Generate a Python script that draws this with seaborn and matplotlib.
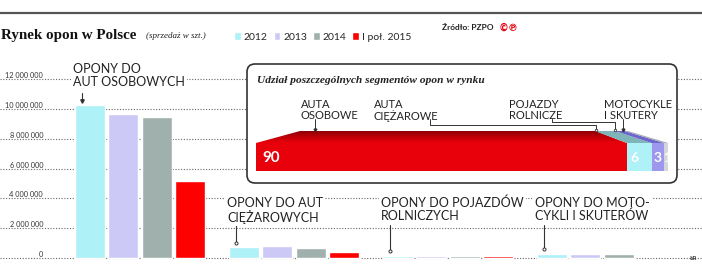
import numpy as np
import pandas as pd
import matplotlib
matplotlib.use('Agg')
import matplotlib.pyplot as plt
import seaborn as sns
from matplotlib.patches import FancyBboxPatch, Polygon
from matplotlib.lines import Line2D
from matplotlib.colors import LinearSegmentedColormap

# sales of tyres per segment and year (pieces)
segments = ['OPONY DO\nAUT OSOBOWYCH', 'OPONY DO AUT\nCIĘŻAROWYCH',
            'OPONY DO POJAZDÓW\nROLNICZYCH', 'OPONY DO MOTO-\nCYKLI I SKUTERÓW']
years = ['2012', '2013', '2014', 'I poł. 2015']
sales_2012 = [10.25e6, 0.72e6, 0.15e6, 0.30e6]
sales_2013 = [9.65e6, 0.78e6, 0.12e6, 0.28e6]
sales_2014 = [9.45e6, 0.70e6, 0.12e6, 0.30e6]
sales_2015 = [5.15e6, 0.40e6, 0.16e6, np.nan]
year_colors = ['#aef1f7', '#ccc9f7', '#9fb0ad', '#fe0000']

y_ticks = [0, 2e6, 4e6, 6e6, 8e6, 10e6, 12e6]
y_tick_labels = ['0', '2 000 000', '4 000 000', '6 000 000', '8 000 000', '10 000 000', '12 000 000']

# market share of segments (%)
share_labels = ['AUTA\nOSOBOWE', 'AUTA\nCIĘŻAROWE', 'POJAZDY\nROLNICZE', 'MOTOCYKLE\nI SKUTERY']
share_values = [90, 6, 3, 1]
share_colors = ['#e8000b', '#aef1f7', '#9d97ee', '#d3d7db']
share_top_colors = ['#b00008', '#7fb5b8', '#6d66cc', '#a3aab2']

rows = []
for year, vals in zip(years, [sales_2012, sales_2013, sales_2014, sales_2015]):
    for seg, v in zip(segments, vals):
        rows.append({'segment': seg, 'year': year, 'sales': v})
df = pd.DataFrame(rows)

sns.set_theme(style='white')
plt.rcParams['font.family'] = ['Lato', 'DejaVu Sans']

W, H = 702, 272
fig = plt.figure(figsize=(W / 100, H / 100), dpi=100)

# main axes: 0 at y=258px, 14.9 px per million
ppm = 14.9
ylo, yhi = -0.2e6, 12.4e6
pb = 258 + 0.2 * ppm
pt = 258 - 12.4 * ppm
ax = fig.add_axes([0, (H - pb) / H, 1, (pb - pt) / H])

sns.barplot(data=df, x='segment', y='sales', hue='year', order=segments, hue_order=years,
            palette=year_colors, saturation=1, width=0.868, gap=0.1, errorbar=None, ax=ax)

ax.set_xlim((0 - 140) / 154, (W - 140) / 154)
ax.set_ylim(ylo, yhi)
ax.set_xticks([])
ax.set_xlabel('')
ax.set_ylabel('')
ax.set_yticks(y_ticks)
ax.set_yticklabels(y_tick_labels, fontsize=5.3, color='#333333')
ax.tick_params(axis='y', length=0, pad=-31)
for lbl in ax.get_yticklabels():
    lbl.set_verticalalignment('bottom')
ax.set_axisbelow(True)
ax.yaxis.grid(True, linestyle=(0, (1, 1.5)), color='#666666', lw=0.8)
for s in ax.spines.values():
    s.set_visible(False)
ax.patch.set_alpha(0)

handles, labels = ax.get_legend_handles_labels()
ax.get_legend().remove()

# group labels with pointers
for i, seg in enumerate(segments):
    top = 13.1e6 if i == 0 else 4.1e6
    ax.text(i - 0.435, top, seg, ha='left', va='top', fontsize=9, color='#222222',
            linespacing=1.1, bbox=dict(fc='white', ec='none', pad=1.5))
    px = i - 0.377
    if i == 0:
        ax.plot([px, px], [11.1e6, sales_2012[i] + 0.3e6], color='#333333', lw=0.8, clip_on=False)
        ax.plot([px], [sales_2012[i] + 0.3e6], marker='v', ms=2.5, color='#333333', clip_on=False)
    else:
        ax.plot([px, px], [2.2e6, sales_2012[i] + 0.3e6], color='#333333', lw=0.8, clip_on=False)
        ax.plot([px], [sales_2012[i] + 0.3e6], marker='o', ms=2.2, mfc='white',
                mec='#333333', mew=0.7, clip_on=False)

# legend in header
fig.legend(handles, labels, loc='center left', bbox_to_anchor=(234 / W, 1 - 37 / H),
           bbox_transform=fig.transFigure, ncol=4, frameon=False, fontsize=7.5,
           handlelength=0.65, handleheight=0.8, handletextpad=0.3, columnspacing=0.55,
           borderpad=0, borderaxespad=0)

# header
fig.add_artist(Line2D([0, 1], [1 - 12.7 / H] * 2, transform=fig.transFigure, color='#555555', lw=1.6))
fig.text(0.001, 1 - 36 / H, 'Rynek opon w Polsce', family='Liberation Serif', weight='bold',
         fontsize=10.8, va='center', color='#111111')
fig.text(146 / W, 1 - 36 / H, '(sprzedaż w szt.)', family='Liberation Serif', style='italic',
         fontsize=6.5, va='center', color='#222222')
fig.text(442 / W, 1 - 28 / H, 'Źródło: PZPO', fontsize=6, weight='bold', va='center', color='#222222')
fig.text(499 / W, 1 - 28 / H, '©', family='DejaVu Sans', fontsize=7, weight='bold', va='center', color='#e30613')
fig.text(507.5 / W, 1 - 28 / H, '℗', family='DejaVu Sans', fontsize=7, weight='bold', va='center', color='#e30613')
fig.text(694 / W, 1 - 258 / H, 'ŁR', fontsize=4.5, weight='bold', ha='center', va='center', color='#333333')

# inset box
box = FancyBboxPatch((2.47, (H - 183) / 100), 4.30, 1.19, boxstyle='round,pad=0,rounding_size=0.08',
                     transform=fig.dpi_scale_trans, fc='white', ec='#333333', lw=1.2, zorder=1)
fig.add_artist(box)
fig.text(257 / W, 1 - 80 / H, 'Udział poszczególnych segmentów opon w rynku', family='Liberation Serif',
         style='italic', weight='bold', fontsize=8.2, va='center', color='#222222', zorder=4)

ax2 = fig.add_axes([256 / W, (H - 171) / H, 412 / W, 40 / H])
ax2.set_zorder(3)
ax2.patch.set_alpha(0)
ax2.axis('off')

lefts = np.concatenate([[0], np.cumsum(share_values)[:-1]])
rights = lefts + np.array(share_values)
ax2.barh(14, share_values, height=28, left=lefts, color=share_colors, edgecolor='none')


def top_x(x):
    return 10.7 + 0.796 * x


for i, (l, r) in enumerate(zip(lefts, rights)):
    if i == 0:
        pts = [(0, 28), (10.7, 40), (top_x(r), 40), (r, 28)]
        poly = Polygon(pts, closed=True, fc='none', ec='none', transform=ax2.transData)
        ax2.add_patch(poly)
        cmap = LinearSegmentedColormap.from_list('rg', ['#e8000b', '#c00008', '#8e0006'])
        grad = np.linspace(0, 1, 64).reshape(-1, 1)
        im = ax2.imshow(grad, extent=[0, r, 28, 40], origin='lower', aspect='auto', cmap=cmap)
        im.set_clip_path(poly)
    else:
        pts = [(l, 28), (top_x(l), 40), (top_x(r), 40), (r, 28)]
        ax2.add_patch(Polygon(pts, closed=True, fc=share_top_colors[i], ec='none'))

ax2.set_xlim(0, 100)
ax2.set_ylim(0, 40)

num_offsets = [1.5, 0.9, 0.4, -0.1]
for i in range(4):
    ax2.text(lefts[i] + num_offsets[i], 13, str(share_values[i]), color='white', weight='bold',
             fontsize=11 if i == 0 else 10, va='center', ha='left', clip_on=False)

label_x = [10.9, 28.6, 61.4, 84.5]
for lab, lx in zip(share_labels, label_x):
    ax2.text(lx, 72, lab, fontsize=8, va='top', ha='left', color='#222222', linespacing=1.05,
             clip_on=False)

lc = dict(color='#333333', lw=0.7, clip_on=False)
ax2.plot([14.3, 14.3], [52, 41], **lc)
ax2.plot([14.3], [41], marker='v', ms=2, color='#333333', clip_on=False)
ax2.plot([42.2, 42.2, 82.5, 82.5], [52, 46, 46, 41], **lc)
ax2.plot([82.5], [41], marker='o', ms=1.8, mfc='white', mec='#333333', mew=0.6, clip_on=False)
ax2.plot([71.8, 71.8, 87.1, 87.1], [52, 49, 49, 41], **lc)
ax2.plot([87.1], [41], marker='o', ms=1.8, mfc='white', mec='#333333', mew=0.6, clip_on=False)
ax2.plot([89.1, 89.1], [52, 41], **lc)
ax2.plot([89.1], [41], marker='v', ms=2, color='#333333', clip_on=False)

fig.savefig('out.png', dpi=100)
